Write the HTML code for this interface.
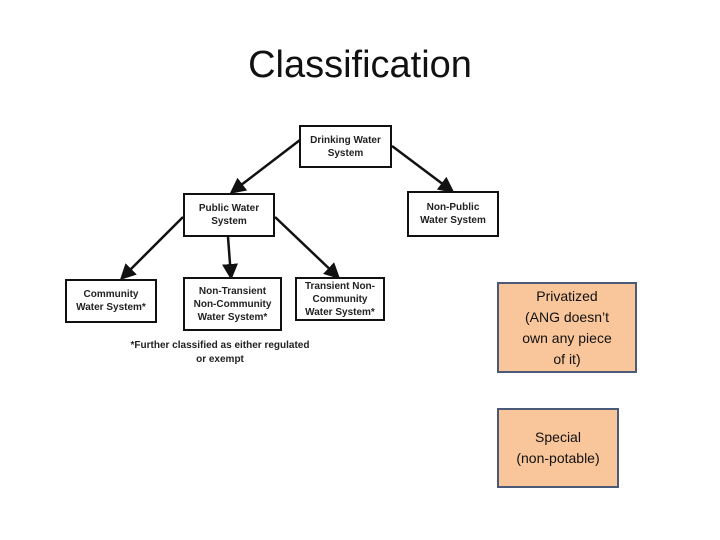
<!DOCTYPE html>
<html><head><style>
body{margin:0;width:720px;height:540px;background:#fff;position:relative;font-family:"Liberation Sans",sans-serif;overflow:hidden}
.t{position:absolute;left:0;width:720px;top:44px;text-align:center;font-size:38px;color:#111}
.b{position:absolute;box-sizing:border-box;border:2.5px solid #111;background:#fff;display:flex;align-items:center;justify-content:center;text-align:center;font-size:10px;font-weight:bold;line-height:13px;color:#222}
.o{position:absolute;box-sizing:border-box;border:2.5px solid #4a5a78;background:#f9c59a;display:flex;align-items:center;justify-content:center;text-align:center;font-size:14px;line-height:21px;color:#111}
.f{position:absolute;font-size:10px;font-weight:bold;color:#222;text-align:center;line-height:14px}
</style></head><body>
<div class="t">Classification</div>
<svg width="720" height="540" style="position:absolute;left:0;top:0">
<defs><marker id="m" markerWidth="16" markerHeight="16" refX="13" refY="8" orient="auto" markerUnits="userSpaceOnUse"><path d="M0,0 L16,8 L0,16z" fill="#111"/></marker></defs>
<g stroke="#111" stroke-width="2.5" fill="none">
<line x1="300" y1="140" x2="232" y2="192" marker-end="url(#m)"/>
<line x1="392" y1="146" x2="452" y2="191" marker-end="url(#m)"/>
<line x1="183" y1="217" x2="122" y2="278" marker-end="url(#m)"/>
<line x1="228" y1="237" x2="231" y2="277" marker-end="url(#m)"/>
<line x1="275" y1="217" x2="338" y2="277" marker-end="url(#m)"/>
</g></svg>
<div class="b" style="left:299px;top:125px;width:93px;height:43px">Drinking Water<br>System</div>
<div class="b" style="left:183px;top:193px;width:92px;height:44px">Public Water<br>System</div>
<div class="b" style="left:407px;top:191px;width:92px;height:46px">Non-Public<br>Water System</div>
<div class="b" style="left:65px;top:279px;width:92px;height:44px">Community<br>Water System*</div>
<div class="b" style="left:183px;top:277px;width:99px;height:54px">Non-Transient<br>Non-Community<br>Water System*</div>
<div class="b" style="left:295px;top:277px;width:90px;height:44px">Transient Non-<br>Community<br>Water System*</div>
<div class="f" style="left:110px;top:339px;width:220px">*Further classified as either regulated<br>or exempt</div>
<div class="o" style="left:497px;top:282px;width:140px;height:91px">Privatized<br>(ANG doesn’t<br>own any piece<br>of it)</div>
<div class="o" style="left:497px;top:408px;width:122px;height:80px">Special<br>(non-potable)</div>
</body></html>
